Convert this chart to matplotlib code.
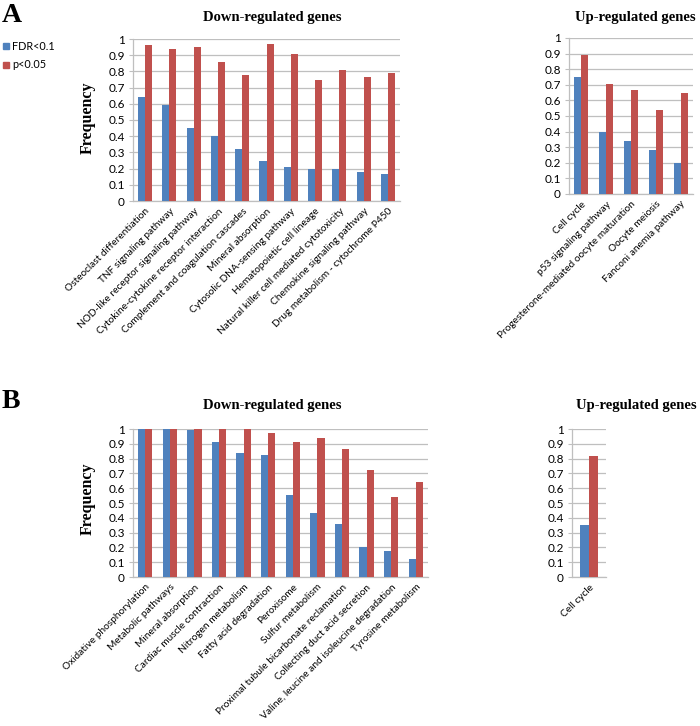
import matplotlib
matplotlib.use('Agg')
import matplotlib.pyplot as plt
from matplotlib.patches import Rectangle
import numpy as np

# panel A, down-regulated
a_down_labels = ['Osteoclast differentiation', 'TNF signaling pathway',
                 'NOD-like receptor signaling pathway', 'Cytokine-cytokine receptor interaction',
                 'Complement and coagulation cascades', 'Mineral absorption',
                 'Cytosolic DNA-sensing pathway', 'Hematopoietic cell lineage',
                 'Natural killer cell mediated cytotoxicity', 'Chemokine signaling pathway',
                 'Drug metabolism - cytochrome P450']
a_down_fdr = [0.64, 0.59, 0.45, 0.40, 0.32, 0.25, 0.21, 0.20, 0.196, 0.179, 0.167]
a_down_p   = [0.96, 0.94, 0.95, 0.855, 0.78, 0.97, 0.91, 0.75, 0.807, 0.763, 0.79]

# panel A, up-regulated
a_up_labels = ['Cell cycle', 'p53 signaling pathway', 'Progesterone-mediated oocyte maturation',
               'Oocyte meiosis', 'Fanconi anemia pathway']
a_up_fdr = [0.75, 0.40, 0.34, 0.285, 0.20]
a_up_p   = [0.89, 0.707, 0.665, 0.54, 0.645]

# panel B, down-regulated
b_down_labels = ['Oxidative phosphorylation', 'Metabolic pathways', 'Mineral absorption',
                 'Cardiac muscle contraction', 'Nitrogen metabolism', 'Fatty acid degradation',
                 'Peroxisome', 'Sulfur metabolism', 'Proximal tubule bicarbonate reclamation',
                 'Collecting duct acid secretion', 'Valine, leucine and isoleucine degradation',
                 'Tyrosine metabolism']
b_down_fdr = [1.0, 1.0, 0.99, 0.914, 0.835, 0.825, 0.553, 0.435, 0.358, 0.206, 0.175, 0.12]
b_down_p   = [1.0, 1.0, 1.0, 1.0, 1.0, 0.975, 0.91, 0.942, 0.863, 0.726, 0.54, 0.642]

# panel B, up-regulated
b_up_labels = ['Cell cycle']
b_up_fdr = [0.35]
b_up_p   = [0.82]

W, H = 700, 726
BLUE = '#4F81BD'
RED = '#C0504D'
GRID = '#BFBFBF'
SANS = 'Lato'
SERIF = 'Liberation Serif'

fig = plt.figure(figsize=(W / 100, H / 100), dpi=100)


def px_axes(left, right, top, bottom):
    return fig.add_axes([left / W, 1 - bottom / H, (right - left) / W, (bottom - top) / H])


def bar_panel(ax, labels, fdr, p, width=0.29):
    x = np.arange(len(labels))
    ax.bar(x - width / 2, fdr, width, color=BLUE, zorder=3)
    ax.bar(x + width / 2, p, width, color=RED, zorder=3)
    ax.set_xlim(-0.5, len(labels) - 0.5)
    ax.set_ylim(0, 1)
    ax.set_yticks(np.arange(0, 1.01, 0.1))
    ax.set_yticklabels(['0'] + ['%.1f' % v for v in np.arange(0.1, 0.95, 0.1)] + ['1'],
                       fontsize=8.5, family=SANS)
    ax.yaxis.grid(True, color=GRID, linewidth=0.9, zorder=0)
    ax.set_xticks(x)
    ax.set_xticklabels(labels, rotation=45, ha='right', rotation_mode='anchor',
                       fontsize=7.3, family=SANS)
    ax.tick_params(axis='x', length=0, pad=4)
    ax.tick_params(axis='y', length=3, color=GRID, pad=3)
    for s in ['top', 'right']:
        ax.spines[s].set_visible(False)
    for s in ['left', 'bottom']:
        ax.spines[s].set_color(GRID)
        ax.spines[s].set_linewidth(0.9)


ax1 = px_axes(133, 400, 39, 201)
bar_panel(ax1, a_down_labels, a_down_fdr, a_down_p)
ax2 = px_axes(569, 693, 38, 194)
bar_panel(ax2, a_up_labels, a_up_fdr, a_up_p, width=0.28)
ax3 = px_axes(133, 428, 429, 577)
bar_panel(ax3, b_down_labels, b_down_fdr, b_down_p)
ax4 = px_axes(572, 606, 429, 577)
bar_panel(ax4, b_up_labels, b_up_fdr, b_up_p, width=0.27)


def ftext(x, y, s, **kw):
    fig.text(x / W, 1 - y / H, s, **kw)


# titles
ftext(272, 18, 'Down-regulated genes', ha='center', va='center', fontsize=10.5,
      family=SERIF, weight='bold')
ftext(635, 18, 'Up-regulated genes', ha='center', va='center', fontsize=10.5,
      family=SERIF, weight='bold')
ftext(272, 405, 'Down-regulated genes', ha='center', va='center', fontsize=10.5,
      family=SERIF, weight='bold')
ftext(636, 405, 'Up-regulated genes', ha='center', va='center', fontsize=10.5,
      family=SERIF, weight='bold')

# y labels
ftext(88, 118, 'Frequency', ha='center', va='center', rotation=90, fontsize=11.5,
      family=SERIF, weight='bold')
ftext(88, 499, 'Frequency', ha='center', va='center', rotation=90, fontsize=11.5,
      family=SERIF, weight='bold')

# panel letters
ftext(2, 15, 'A', ha='left', va='center', fontsize=20, family=SERIF, weight='bold')
ftext(2, 401, 'B', ha='left', va='center', fontsize=20, family=SERIF, weight='bold')

# legend
for yy, col, lab in [(46, BLUE, 'FDR<0.1'), (65, RED, 'p<0.05')]:
    fig.patches.append(Rectangle((3 / W, 1 - (yy + 3) / H), 6 / W, 6 / H,
                                 color=col, transform=fig.transFigure))
    ftext(12, yy, lab, ha='left', va='center', fontsize=7.8, family=SANS)

fig.savefig('out.png', dpi=100)
